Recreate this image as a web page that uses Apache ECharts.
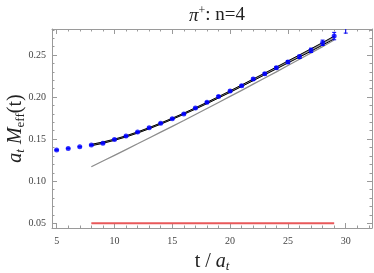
<!DOCTYPE html>
<html><head><meta charset="utf-8">
<script src="https://cdn.jsdelivr.net/npm/echarts@6/dist/echarts.min.js"></script>
<style>html,body{margin:0;padding:0;background:#fff}#c{width:374px;height:273px}</style>
</head><body><div id="c"></div>
<script>
// Data
var tValues = [5,6,7,8,9,10,11,12,13,14,15,16,17,18,19,20,21,22,23,24,25,26,27,28,29,30];
var meff = [0.1370,0.1390,0.1410,0.1430,0.1450,0.1497,0.1537,0.1584,0.1636,0.1690,0.1742,0.1800,0.1869,0.1938,0.2008,0.2071,0.2134,0.2214,0.2277,0.2348,0.2416,0.2479,0.2555,0.2645,0.2725,0.2820];
var meffErr = [0.0004,0.0004,0.0004,0.0005,0.0005,0.0005,0.0006,0.0006,0.0007,0.0007,0.0008,0.0008,0.0009,0.0010,0.0010,0.0011,0.0012,0.0013,0.0014,0.0016,0.0018,0.0020,0.0026,0.0032,0.0044,0.0060];
var fitT = [8,9,10,11,12,13,14,15,16,17,18,19,20,21,22,23,24,25,26,27,28,29];
var fitCenter = [0.1430,0.1458,0.1493,0.1533,0.1579,0.1630,0.1685,0.1742,0.1802,0.1865,0.1930,0.1997,0.2065,0.2135,0.2205,0.2275,0.2346,0.2417,0.2488,0.2560,0.2633,0.2707];
var fitErr = [0.0008,0.0008,0.0007,0.0007,0.0007,0.0007,0.0007,0.0007,0.0007,0.0008,0.0008,0.0008,0.0009,0.0009,0.0010,0.0010,0.0011,0.0012,0.0013,0.0014,0.0015,0.0017];
var grayT = [8,10,12,14,16,18,20,22,24,26,28,29];
var grayLine = [0.1172,0.1308,0.1445,0.1583,0.1722,0.1864,0.2008,0.2153,0.2300,0.2450,0.2600,0.2678];
var redT = [8,29];
var redLine = [0.05,0.05];
var xTicks = [5,10,15,20,25,30];
var xMinor = [5,6,7,8,9,10,11,12,13,14,15,16,17,18,19,20,21,22,23,24,25,26,27,28,29,30,31,32];
var yTicks = [0.05,0.10,0.15,0.20,0.25];
var yMinor = [0.05,0.06,0.07,0.08,0.09,0.10,0.11,0.12,0.13,0.14,0.15,0.16,0.17,0.18,0.19,0.20,0.21,0.22,0.23,0.24,0.25,0.26,0.27,0.28];

var X0 = 4.6, X1 = 32.27, Y0 = 0.0444, Y1 = 0.2809;
var serif = 'Liberation Serif, DejaVu Serif, serif';
var frame = '#9a9a9a';

function pairs(a, b) { return a.map(function (v, i) { return [v, b[i]]; }); }

function xAx(pos, major) {
  return {
    type: 'value', min: X0, max: X1, position: pos, gridIndex: 0,
    axisLine: { show: major, lineStyle: { color: frame, width: 1 } },
    splitLine: { show: false },
    axisTick: { show: true, inside: true, length: major ? 5 : 2.5, customValues: major ? xTicks : xMinor, lineStyle: { color: frame } },
    axisLabel: { show: major && pos === 'bottom', customValues: xTicks, color: '#444', fontFamily: serif, fontSize: 10, margin: 8,
      formatter: function (v) { return String(v); } }
  };
}
function yAx(pos, major) {
  return {
    type: 'value', min: Y0, max: Y1, position: pos, gridIndex: 0,
    axisLine: { show: major, lineStyle: { color: frame, width: 1 } },
    splitLine: { show: false },
    axisTick: { show: true, inside: true, length: major ? 5 : 2.5, customValues: major ? yTicks : yMinor, lineStyle: { color: frame } },
    axisLabel: { show: major && pos === 'left', customValues: yTicks, color: '#444', fontFamily: serif, fontSize: 10, margin: 6,
      formatter: function (v) { return v.toFixed(2); } }
  };
}

var xs = [xAx('bottom', true), xAx('bottom', false), xAx('top', true), xAx('top', false)];
var ys = [yAx('left', true), yAx('left', false), yAx('right', true), yAx('right', false)];
var nameRich = {
  n: { fontFamily: serif, fontSize: 20, color: '#222', fontWeight: 'normal' },
  i: { fontFamily: serif, fontSize: 20, fontStyle: 'italic', color: '#222', fontWeight: 'normal' },
  s: { fontFamily: serif, fontSize: 13, color: '#222', padding: [9, 0, 0, 0] },
  si: { fontFamily: serif, fontSize: 13, fontStyle: 'italic', color: '#222', padding: [9, 0, 0, 0] }
};
xs[0].name = '{n|t / }{i|a}{si|t}';
xs[0].nameLocation = 'middle';
xs[0].nameGap = 23;
xs[0].nameMoveOverlap = false;
xs[0].nameTextStyle = { rich: nameRich };
ys[0].name = '{i|a}{si|t}{n| }{i|M}{s|eff}{n|(t)}';
ys[0].nameLocation = 'middle';
ys[0].nameGap = 25;
ys[0].nameMoveOverlap = false;
ys[0].nameTextStyle = { rich: nameRich };

var bandData = fitT.slice(0, -1).map(function (t, i) {
  return [t, fitCenter[i] - fitErr[i], fitCenter[i] + fitErr[i], fitT[i + 1], fitCenter[i + 1] - fitErr[i + 1], fitCenter[i + 1] + fitErr[i + 1]];
});
var lower = fitCenter.map(function (v, i) { return v - fitErr[i]; });
var upper = fitCenter.map(function (v, i) { return v + fitErr[i]; });

var errData = tValues.map(function (t, i) { return [t, meff[i] - meffErr[i], meff[i] + meffErr[i]]; });

var option = {
  animation: false,
  backgroundColor: '#fff',
  title: {
    text: '{i|π}{s|+}{n|: n=4}', left: 212, top: 0, textAlign: 'center',
    textStyle: { fontWeight: 'normal', rich: {
      i: { fontFamily: serif, fontSize: 19, fontStyle: 'italic', color: '#222', fontWeight: 'normal' },
      s: { fontFamily: serif, fontSize: 12, color: '#222', padding: [0, 0, 9, 0], fontWeight: 'normal' },
      n: { fontFamily: serif, fontSize: 19, color: '#222', fontWeight: 'normal' } } }
  },
  grid: { left: 52, top: 29, right: 2, bottom: 45, containLabel: false, outerBoundsMode: 'none' },
  xAxis: xs,
  yAxis: ys,
  series: [
    { type: 'custom', data: bandData, z: 1, silent: true,
      renderItem: function (params, api) {
        var a = api.coord([api.value(0), api.value(1)]);
        var b = api.coord([api.value(3), api.value(4)]);
        var c = api.coord([api.value(3), api.value(5)]);
        var d = api.coord([api.value(0), api.value(2)]);
        return { type: 'polygon', shape: { points: [a, b, c, d] }, style: { fill: '#a0a0a0', stroke: '#a0a0a0', lineWidth: 0.5 } };
      } },
    { type: 'line', data: pairs(fitT, lower), symbol: 'none', lineStyle: { color: '#000', width: 1 }, z: 2 },
    { type: 'line', data: pairs(fitT, upper), symbol: 'none', lineStyle: { color: '#000', width: 1 }, z: 2 },
    { type: 'line', data: pairs(grayT, grayLine), symbol: 'none', lineStyle: { color: '#8c8c8c', width: 1.3 }, smooth: 0.3, z: 2 },
    { type: 'line', data: pairs(redT, redLine), symbol: 'none', lineStyle: { color: '#e8585a', width: 2 }, z: 2 },
    { type: 'custom', data: errData, z: 3, clip: true,
      renderItem: function (params, api) {
        var t = api.value(0);
        var lo = api.coord([t, api.value(1)]);
        var hi = api.coord([t, api.value(2)]);
        var c = 2;
        return { type: 'group', children: [
          { type: 'line', shape: { x1: lo[0], y1: lo[1], x2: hi[0], y2: hi[1] }, style: { stroke: '#0000ff', lineWidth: 1 } },
          { type: 'line', shape: { x1: lo[0] - c, y1: lo[1], x2: lo[0] + c, y2: lo[1] }, style: { stroke: '#0000ff', lineWidth: 1 } },
          { type: 'line', shape: { x1: hi[0] - c, y1: hi[1], x2: hi[0] + c, y2: hi[1] }, style: { stroke: '#0000ff', lineWidth: 1 } }
        ] };
      } },
    { type: 'scatter', data: pairs(tValues, meff), symbol: 'circle', symbolSize: 5, itemStyle: { color: '#0000ff' }, z: 4, clip: true }
  ]
};
echarts.init(document.getElementById('c')).setOption(option);
</script></body></html>
